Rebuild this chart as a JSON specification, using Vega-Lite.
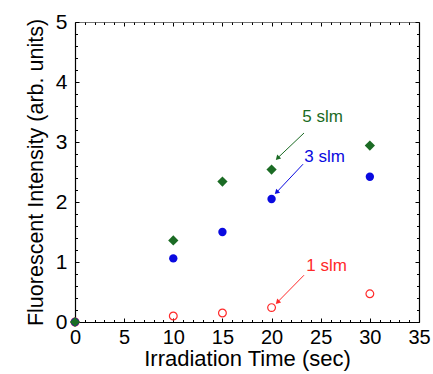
{
  "$schema": "https://vega.github.io/schema/vega-lite/v6.json",
  "width": 344,
  "height": 300,
  "autosize": {"type": "none"},
  "padding": {"left": 75, "top": 22, "right": 14, "bottom": 52},
  "background": "white",
  "config": {
    "view": {"stroke": null},
    "font": "Liberation Sans",
    "axis": {"grid": false, "domainColor": "black", "tickColor": "black", "domainWidth": 1.2, "tickWidth": 1, "labelFont": "Liberation Sans", "titleFont": "Liberation Sans", "labelColor": "black", "titleColor": "black", "titleFontWeight": "normal"}
  },
  "datasets": {
    "pts": [
      {"series": "5 slm", "time": 0, "intensity": 0},
      {"series": "5 slm", "time": 10, "intensity": 1.36},
      {"series": "5 slm", "time": 15, "intensity": 2.34},
      {"series": "5 slm", "time": 20, "intensity": 2.54},
      {"series": "5 slm", "time": 30, "intensity": 2.94},
      {"series": "3 slm", "time": 0, "intensity": 0},
      {"series": "3 slm", "time": 10, "intensity": 1.06},
      {"series": "3 slm", "time": 15, "intensity": 1.5},
      {"series": "3 slm", "time": 20, "intensity": 2.05},
      {"series": "3 slm", "time": 30, "intensity": 2.42},
      {"series": "1 slm", "time": 0, "intensity": 0},
      {"series": "1 slm", "time": 10, "intensity": 0.1},
      {"series": "1 slm", "time": 15, "intensity": 0.15},
      {"series": "1 slm", "time": 20, "intensity": 0.24},
      {"series": "1 slm", "time": 30, "intensity": 0.47}
    ],
    "notes": [
      {"series": "5 slm", "tx": 25.2, "ty": 3.42, "ax": 23.3, "ay": 3.15, "bx": 20.6, "by": 2.73},
      {"series": "3 slm", "tx": 25.4, "ty": 2.75, "ax": 23.2, "ay": 2.63, "bx": 20.5, "by": 2.16},
      {"series": "1 slm", "tx": 25.6, "ty": 0.93, "ax": 23.3, "ay": 0.78, "bx": 20.6, "by": 0.33}
    ]
  },
  "resolve": {"axis": {"x": "independent", "y": "independent"}},
  "layer": [
    {
      "data": {"name": "pts"},
      "transform": [{"filter": "datum.series === '1 slm'"}],
      "mark": {"type": "point", "shape": "circle", "filled": false, "opacity": 1, "size": 60, "strokeWidth": 1.2},
      "encoding": {
        "x": {"field": "time", "type": "quantitative", "scale": {"domain": [0, 35], "nice": false, "zero": false},
          "axis": {"orient": "top", "values": [0,5,10,15,20,25,30,35], "labels": false, "title": null, "tickSize": -4, "domainColor": "#777777"}},
        "y": {"field": "intensity", "type": "quantitative", "scale": {"domain": [0, 5], "nice": false},
          "axis": {"orient": "right", "values": [0,1,2,3,4,5], "labels": false, "title": null, "tickSize": -4}},
        "color": {"field": "series", "type": "nominal", "scale": {"domain": ["5 slm", "3 slm", "1 slm"], "range": ["#1b6b24", "#0a0ae0", "#ff2a2a"]}, "legend": null}
      }
    },
    {
      "data": {"name": "pts"},
      "transform": [{"filter": "datum.series === '3 slm'"}],
      "mark": {"type": "point", "shape": "circle", "filled": true, "opacity": 1, "size": 70},
      "encoding": {
        "x": {"field": "time", "type": "quantitative",
          "axis": {"orient": "bottom", "values": [1,2,3,4,6,7,8,9,11,12,13,14,16,17,18,19,21,22,23,24,26,27,28,29,31,32,33,34], "labels": false, "domain": false, "title": null, "tickSize": -2.5}},
        "y": {"field": "intensity", "type": "quantitative",
          "axis": {"orient": "left", "values": [0.2,0.4,0.6,0.8,1.2,1.4,1.6,1.8,2.2,2.4,2.6,2.8,3.2,3.4,3.6,3.8,4.2,4.4,4.6,4.8], "labels": false, "domain": false, "title": null, "tickSize": -2.5}},
        "color": {"field": "series", "type": "nominal", "legend": null}
      }
    },
    {
      "data": {"name": "pts"},
      "transform": [{"filter": "datum.series === '5 slm'"}],
      "mark": {"type": "point", "shape": "diamond", "filled": true, "opacity": 1, "size": 105},
      "encoding": {
        "x": {"field": "time", "type": "quantitative",
          "axis": {"orient": "bottom", "values": [0,5,10,15,20,25,30,35], "tickSize": -4, "labelPadding": 9, "labelFontSize": 20, "labelFlush": false, "labelOverlap": false,
            "title": "Irradiation Time (sec)", "titleFontSize": 22, "titlePadding": 1}},
        "y": {"field": "intensity", "type": "quantitative",
          "axis": {"orient": "left", "values": [0,1,2,3,4,5], "tickSize": -4, "labelPadding": 12, "labelFontSize": 21, "labelFlush": false, "labelOverlap": false,
            "title": "Fluorescent Intensity (arb. units)", "titleFontSize": 21.5, "titlePadding": 8}},
        "color": {"field": "series", "type": "nominal", "legend": null}
      }
    },
    {
      "data": {"name": "notes"},
      "mark": {"type": "rule", "strokeWidth": 1},
      "encoding": {
        "x": {"field": "ax", "type": "quantitative",
          "axis": {"orient": "top", "values": [1,2,3,4,6,7,8,9,11,12,13,14,16,17,18,19,21,22,23,24,26,27,28,29,31,32,33,34], "labels": false, "domain": false, "title": null, "tickSize": -2.5}},
        "y": {"field": "ay", "type": "quantitative",
          "axis": {"orient": "right", "values": [0.2,0.4,0.6,0.8,1.2,1.4,1.6,1.8,2.2,2.4,2.6,2.8,3.2,3.4,3.6,3.8,4.2,4.4,4.6,4.8], "labels": false, "domain": false, "title": null, "tickSize": -2.5}},
        "x2": {"field": "bx"},
        "y2": {"field": "by"},
        "color": {"field": "series", "type": "nominal", "legend": null}
      }
    },
    {
      "data": {"name": "notes"},
      "mark": {"type": "point", "shape": "triangle-up", "filled": true, "opacity": 1, "size": 30, "angle": 225},
      "encoding": {
        "x": {"field": "bx", "type": "quantitative", "axis": null},
        "y": {"field": "by", "type": "quantitative", "axis": null},
        "color": {"field": "series", "type": "nominal", "legend": null}
      }
    },
    {
      "data": {"name": "notes"},
      "mark": {"type": "text", "fontSize": 17, "font": "Liberation Sans", "align": "center", "baseline": "middle"},
      "encoding": {
        "x": {"field": "tx", "type": "quantitative", "axis": null},
        "y": {"field": "ty", "type": "quantitative", "axis": null},
        "text": {"field": "series"},
        "color": {"field": "series", "type": "nominal", "legend": null}
      }
    }
  ]
}
